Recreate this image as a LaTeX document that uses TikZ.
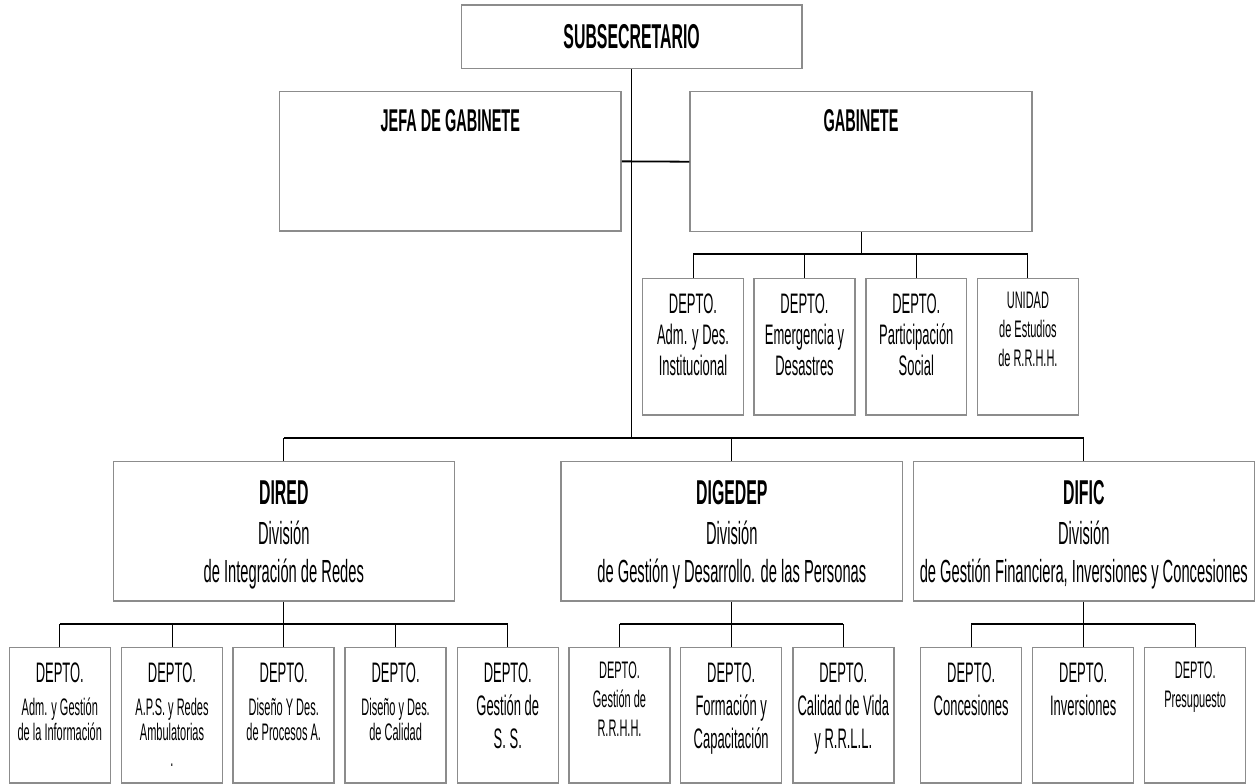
\documentclass[tikz,border=0pt]{standalone}
\usepackage{fontspec}
\setmainfont[FakeStretch=0.46]{Liberation Sans}
\definecolor{boxgray}{RGB}{140,140,140}
\begin{document}
\begin{tikzpicture}[x=1pt,y=-1pt,
  box/.style={draw=boxgray, line width=1.5pt, fill=white, inner sep=0pt},
  bigbox/.style={box, minimum width=341pt, minimum height=139.3pt},
  gdept/.style={box, minimum width=100.7pt, minimum height=136.7pt},
  bdept/.style={box, minimum width=101pt, minimum height=135.7pt},
  conn/.style={draw=black, line width=1pt},
  bus/.style={draw=black, line width=1.8pt},
  tb/.style={anchor=base, inner sep=0pt, font=\bfseries\fontsize{#1}{#1}\selectfont},
  tn/.style={anchor=base, inner sep=0pt, font=\fontsize{#1}{#1}\selectfont}]
\useasboundingbox[fill=white] (0,0) rectangle (1258,784);

% top level
\node[box, minimum width=340.7pt, minimum height=63.3pt] (sub) at (631.65,36.65) {};
\node[tb=34.5] (subT) at (631.65,48.5) {SUBSECRETARIO};

\node[box, minimum width=341.4pt, minimum height=139.3pt] (jefa) at (450.3,161.35) {};
\node[tb=31.5] (jefaT) at (450.3,131.5) {JEFA DE GABINETE};
\node[box, minimum width=342pt, minimum height=140pt] (gab) at (861,161.7) {};
\node[tb=31.5] (gabT) at (861,131.5) {GABINETE};

% gabinete departments
\node[gdept] (gd1) at (693,346.65) {};
\node[gdept] (gd2) at (804.5,346.65) {};
\node[gdept] (gd3) at (916.3,346.65) {};
\node[gdept] (gd4) at (1027.9,346.65) {};
\node[tn=28.2] (gd1a) at (693,313) {DEPTO.};
\node[tn=28.2] (gd1b) at (693,344) {Adm. y Des.};
\node[tn=28.2] (gd1c) at (693,375) {Institucional};
\node[tn=28.2] (gd2a) at (804.5,313) {DEPTO.};
\node[tn=28.2] (gd2b) at (804.5,344) {Emergencia y};
\node[tn=28.2] (gd2c) at (804.5,375) {Desastres};
\node[tn=28.2] (gd3a) at (916.3,313) {DEPTO.};
\node[tn=28.2] (gd3b) at (916.3,344) {Participación};
\node[tn=28.2] (gd3c) at (916.3,375) {Social};
\node[tn=23.9] (gd4a) at (1027.9,308) {UNIDAD};
\node[tn=23.9] (gd4b) at (1027.9,337) {de Estudios};
\node[tn=23.9] (gd4c) at (1027.9,366) {de R.R.H.H.};

% divisions
\node[bigbox] (dired) at (283.8,531.35) {};
\node[bigbox, minimum width=341.7pt] (digedep) at (731.85,531.35) {};
\node[bigbox] (dific) at (1083.8,531.35) {};
\node[tb=34.5] (diredT) at (283.8,504.5) {DIRED};
\node[tn=32] (diredA) at (283.8,544) {División};
\node[tn=32] (diredB) at (283.8,582) {de Integración de Redes};
\node[tb=34.5] (digedepT) at (731.85,504.5) {DIGEDEP};
\node[tn=32] (digedepA) at (731.85,544) {División};
\node[tn=32] (digedepB) at (731.85,582) {de Gestión y Desarrollo. de las Personas};
\node[tb=34.5] (dificT) at (1083.8,504.5) {DIFIC};
\node[tn=32] (dificA) at (1083.8,544) {División};
\node[tn=32] (dificB) at (1083.8,582) {de Gestión Financiera, Inversiones y Concesiones};

% bottom departments
\node[bdept] (b1) at (59.8,715.15) {};
\node[bdept] (b2) at (172,715.15) {};
\node[bdept] (b3) at (283.7,715.15) {};
\node[bdept] (b4) at (395.6,715.15) {};
\node[bdept] (b5) at (507.8,715.15) {};
\node[bdept] (b6) at (619.5,715.15) {};
\node[bdept] (b7) at (731.2,715.15) {};
\node[bdept] (b8) at (843.3,715.15) {};
\node[bdept] (b9) at (971.2,715.15) {};
\node[bdept] (b10) at (1083.2,715.15) {};
\node[bdept] (b11) at (1195.2,715.15) {};

\node[tn=28.2] (b1a) at (59.8,682.5) {DEPTO.};
\node[tn=23.9] (b1b) at (59.8,715) {Adm. y Gestión};
\node[tn=23.9] (b1c) at (59.8,740) {de la Información};
\node[tn=28.2] (b2a) at (172,682.5) {DEPTO.};
\node[tn=23.9] (b2b) at (172,715) {A.P.S. y Redes};
\node[tn=23.9] (b2c) at (172,740) {Ambulatorias};
\node[tn=23.9] (b2d) at (172,766) {.};
\node[tn=28.2] (b3a) at (283.7,682.5) {DEPTO.};
\node[tn=23.9] (b3b) at (283.7,715) {Diseño Y Des.};
\node[tn=23.9] (b3c) at (283.7,740) {de Procesos A.};
\node[tn=28.2] (b4a) at (395.6,682.5) {DEPTO.};
\node[tn=23.9] (b4b) at (395.6,715) {Diseño y Des.};
\node[tn=23.9] (b4c) at (395.6,740) {de Calidad};
\node[tn=28.2] (b5a) at (507.8,682.5) {DEPTO.};
\node[tn=28.2] (b5b) at (507.8,715) {Gestión de};
\node[tn=28.2] (b5c) at (507.8,748) {S. S.};
\node[tn=23.9] (b6a) at (619.5,678) {DEPTO.};
\node[tn=23.9] (b6b) at (619.5,707) {Gestión de};
\node[tn=23.9] (b6c) at (619.5,736.5) {R.R.H.H.};
\node[tn=28.2] (b7a) at (731.2,682.5) {DEPTO.};
\node[tn=28.2] (b7b) at (731.2,715) {Formación y};
\node[tn=28.2] (b7c) at (731.2,748) {Capacitación};
\node[tn=28.2] (b8a) at (843.3,682.5) {DEPTO.};
\node[tn=28.2] (b8b) at (843.3,715) {Calidad de Vida};
\node[tn=28.2] (b8c) at (843.3,748) {y R.R.L.L.};
\node[tn=28.2] (b9a) at (971.2,682.5) {DEPTO.};
\node[tn=28.2] (b9b) at (971.2,715) {Concesiones};
\node[tn=28.2] (b10a) at (1083.2,682.5) {DEPTO.};
\node[tn=28.2] (b10b) at (1083.2,715) {Inversiones};
\node[tn=23.9] (b11a) at (1195.2,678) {DEPTO.};
\node[tn=23.9] (b11b) at (1195.2,707) {Presupuesto};

% connectors
\coordinate (mbus) at (631.65,438.3);
\coordinate (gbus) at (861,254);
\coordinate (dbus) at (0,624);

\draw[conn] (sub.south) -- (mbus);
\draw[bus] (jefa.east) -- (gab.west);

\draw[conn] (gab.south) -- (gbus);
\draw[bus] (gd1.north |- gbus) -- (gd4.north |- gbus);
\foreach \n in {gd1,gd2,gd3,gd4} \draw[conn] (\n.north |- gbus) -- (\n.north);

\draw[bus] (dired.north |- mbus) -- (dific.north |- mbus);
\foreach \n in {dired,digedep,dific} \draw[conn] (\n.north |- mbus) -- (\n.north);

\foreach \n in {dired,digedep,dific} \draw[conn] (\n.south) -- (\n.south |- dbus);
\draw[bus] (b1.north |- dbus) -- (b5.north |- dbus);
\draw[bus] (b6.north |- dbus) -- (b8.north |- dbus);
\draw[bus] (b9.north |- dbus) -- (b11.north |- dbus);
\foreach \n in {b1,b2,b3,b4,b5,b6,b7,b8,b9,b10,b11} \draw[conn] (\n.north |- dbus) -- (\n.north);
\end{tikzpicture}
\end{document}
